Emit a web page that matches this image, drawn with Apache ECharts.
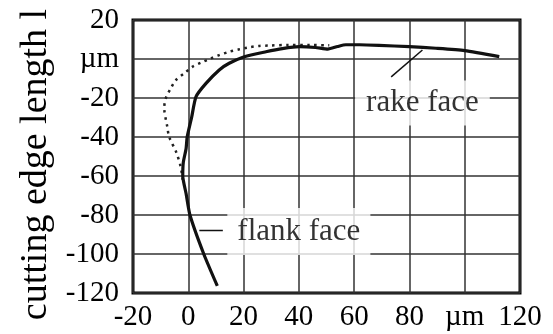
<!DOCTYPE html>
<html>
<head>
<meta charset="utf-8">
<script src="https://cdn.jsdelivr.net/npm/echarts@6/dist/echarts.min.js"></script>
<style>
  html, body { margin: 0; padding: 0; background: #fff; }
  #chart { width: 553px; height: 334px; }
</style>
</head>
<body>
<div id="chart"></div>
<script>
// tick labels (100 on x and 0 on y are replaced by the unit)
const xTickValues = [-20, 0, 20, 40, 60, 80, 100, 120];
const xTickLabels = ['-20', '0', '20', '40', '60', '80', 'µm', '120'];
const yTickValues = [-120, -100, -80, -60, -40, -20, 0, 20];
const yTickLabels = ['-120', '-100', '-80', '-60', '-40', '-20', 'µm', '20'];

// solid curve, [x, l] in µm
const solidCurve = [
  [10.5, -116.4], [5.6, -100], [0.6, -80], [-0.8, -69], [-2, -60], [-1.8, -53],
  [-0.8, -46], [-0.4, -40], [1.2, -30], [2.8, -19.3], [6.4, -12.5], [11.2, -5.6],
  [14.8, -2.2], [20.3, 1.2], [28.1, 3.7], [34, 5.3], [40.2, 6.3], [46, 5.9],
  [50.5, 5.1], [54, 6.4], [57, 7.3], [62, 7.3], [69, 7], [80, 6.3], [89.6, 5.5],
  [100, 4.3], [112.5, 1.2]
];

// dotted curve, [x, l] in µm
const dottedCurve = [
  [-2, -62], [-2.8, -55], [-4.3, -48], [-6.9, -40], [-7.6, -34.7], [-8.7, -25],
  [-8.1, -20], [-6.3, -15], [-4.5, -10.8], [-1.4, -7.3], [1.6, -3.9], [4.6, -1.9],
  [8.2, 0.3], [11.2, 2], [14.8, 3.7], [18.5, 5], [22, 6], [25.7, 6.7],
  [29.3, 6.9], [36, 7.2], [44, 7.2], [51, 7]
];

// annotations
const rakeLabel = [[84.7, -22.5]];
const rakeLeader = [[73.4, -9.2], [84.7, 4.6]];
const flankLabel = [[40, -88.5]];
const flankLeader = [[4, -88], [12.5, -88]];

const serif = 'Liberation Serif';
const chart = echarts.init(document.getElementById('chart'));

const labelSeries = (name, data, text, pad) => ({
  name: name,
  type: 'scatter',
  data: data,
  symbolSize: 0,
  z: 5,
  silent: true,
  label: {
    show: true,
    position: 'inside',
    formatter: text,
    color: '#000',
    fontFamily: serif,
    fontSize: 31,
    lineHeight: 31,
    backgroundColor: '#fff',
    padding: pad
  }
});

const leaderSeries = (name, data) => ({
  name: name,
  type: 'line',
  data: data,
  symbol: 'none',
  z: 6,
  silent: true,
  lineStyle: { color: '#111', width: 1.5 }
});

const option = {
  animation: false,
  grid: {
    left: 133,
    right: 33,
    top: 20,
    bottom: 41,
    outerBoundsMode: 'none',
    show: true,
    borderColor: '#000',
    borderWidth: 3,
    backgroundColor: 'transparent'
  },
  xAxis: {
    type: 'value',
    min: -20,
    max: 120,
    interval: 20,
    axisLine: { show: false },
    axisTick: { show: false },
    splitLine: { lineStyle: { color: '#333', width: 1.5 } },
    axisLabel: {
      margin: 10,
      color: '#000',
      fontFamily: serif,
      fontSize: 29,
      formatter: v => xTickLabels[xTickValues.indexOf(v)]
    }
  },
  yAxis: {
    type: 'value',
    min: -120,
    max: 20,
    interval: 20,
    name: 'cutting edge length l',
    nameLocation: 'middle',
    nameGap: 76,
    nameTextStyle: {
      color: '#000',
      fontFamily: serif,
      fontSize: 38,
      padding: [0, 16, 0, 0]
    },
    axisLine: { show: false },
    axisTick: { show: false },
    splitLine: { lineStyle: { color: '#333', width: 1.5 } },
    axisLabel: {
      margin: 14,
      color: '#000',
      fontFamily: serif,
      fontSize: 29,
      formatter: v => yTickLabels[yTickValues.indexOf(v)]
    }
  },
  series: [
    {
      name: 'dotted',
      type: 'line',
      data: dottedCurve,
      symbol: 'none',
      smooth: 0.3,
      z: 3,
      lineStyle: { color: '#222', width: 2.5, type: [2.5, 4.5] }
    },
    {
      name: 'solid',
      type: 'line',
      data: solidCurve,
      symbol: 'none',
      smooth: 0.2,
      z: 4,
      lineStyle: { color: '#111', width: 3.2 }
    },
    labelSeries('rake', rakeLabel, 'rake face', [7, 11]),
    labelSeries('flank', flankLabel, 'flank face', [8, 10]),
    leaderSeries('rakeLeader', rakeLeader),
    leaderSeries('flankLeader', flankLeader)
  ]
};

chart.setOption(option);
</script>
</body>
</html>
